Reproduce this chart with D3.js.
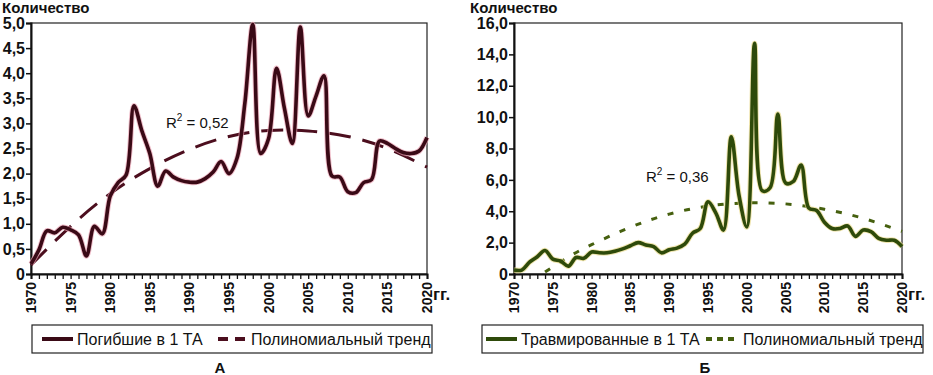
<!DOCTYPE html>
<html>
<head>
<meta charset="utf-8">
<script src="https://cdn.jsdelivr.net/npm/d3@7"></script>
<style>
  body { margin: 0; background: #fff; }
  svg text { font-family: "Liberation Sans", Arial, sans-serif; fill: #111; }
</style>
</head>
<body>
<svg width="933" height="375"></svg>
<script>
// years on the x axis
const years = [1970, 1971, 1972, 1973, 1974, 1975, 1976, 1977, 1978, 1979,
  1980, 1981, 1982, 1983, 1984, 1985, 1986, 1987, 1988, 1989,
  1990, 1991, 1992, 1993, 1994, 1995, 1996, 1997, 1998, 1999,
  2000, 2001, 2002, 2003, 2004, 2005, 2006, 2007, 2008, 2009,
  2010, 2011, 2012, 2013, 2014, 2015, 2016, 2017, 2018, 2019, 2020];
const yearLabels = [1970, 1975, 1980, 1985, 1990, 1995, 2000, 2005, 2010, 2015, 2020];

// А: killed per 1 accident
const killed = [0.2, 0.48, 0.86, 0.82, 0.93, 0.88, 0.78, 0.36, 0.95, 0.8,
  1.55, 1.82, 1.97, 3.35, 2.85, 2.4, 1.75, 2.05, 1.93, 1.86,
  1.83, 1.83, 1.9, 2.03, 2.24, 2.0, 2.3, 3.4, 4.97, 2.4,
  2.7, 4.1, 3.3, 2.6, 4.92, 3.15, 3.55, 3.95, 1.95, 1.93,
  1.64, 1.62, 1.82, 1.88, 2.65, 2.6, 2.5, 2.42, 2.4, 2.45, 2.72];
const trendYearsA = [1970, 1975, 1980, 1985, 1990, 1995, 2000, 2005, 2010, 2015, 2020];
const trendA = [0.18, 0.95, 1.6, 2.1, 2.48, 2.74, 2.86, 2.85, 2.74, 2.5, 2.13];
const ticksA = [0, 0.5, 1, 1.5, 2, 2.5, 3, 3.5, 4, 4.5, 5];

// Б: injured per 1 accident
const injured = [0.25, 0.25, 0.75, 1.1, 1.5, 0.95, 0.83, 0.5, 1.05, 1.0,
  1.4, 1.35, 1.35, 1.45, 1.6, 1.8, 2.0, 1.85, 1.75, 1.35,
  1.55, 1.65, 1.9, 2.6, 2.9, 4.6, 3.9, 2.8, 8.75, 5.0,
  3.0, 14.7, 5.3, 5.5, 10.2, 5.8, 5.9, 6.95, 4.2, 4.05,
  3.3, 2.9, 2.9, 3.06, 2.4, 2.8, 2.7, 2.27, 2.15, 2.15, 1.75];
const trendYearsB = [1974, 1977, 1980, 1985, 1990, 1995, 2000, 2005, 2010, 2015, 2020];
const trendB = [0.12, 1.08, 1.87, 2.98, 3.82, 4.33, 4.53, 4.47, 4.13, 3.55, 2.72];
const ticksB = [0, 2, 4, 6, 8, 10, 12, 14, 16];

const svg = d3.select('svg');
const fmt = d => d === 0 ? '0' : d3.format('.1f')(d).replace('.', ',');

function panel(o) {
  const x = d3.scaleLinear().domain([1970, 2020]).range([o.x0, o.x1]);
  const y = d3.scaleLinear().domain([0, o.yMax]).range([o.y1, o.y0]);
  const g = svg.append('g');

  // title
  g.append('text')
    .attr('x', o.titleX).attr('y', 13)
    .attr('font-size', 15).attr('font-weight', 'bold')
    .text('Количество');

  // plot frame
  g.append('rect')
    .attr('x', o.x0).attr('y', o.y0)
    .attr('width', o.x1 - o.x0).attr('height', o.y1 - o.y0)
    .attr('fill', 'none').attr('stroke', '#222').attr('stroke-width', 1.2);

  // y axis
  const ya = g.append('g')
    .attr('transform', `translate(${o.x0},0)`)
    .call(d3.axisLeft(y).tickValues(o.ticks).tickSize(5).tickPadding(1).tickFormat(fmt));
  ya.select('.domain').attr('stroke', '#111').attr('stroke-width', 2);
  ya.selectAll('line').attr('stroke', '#111').attr('stroke-width', 1.5);
  ya.selectAll('text').attr('font-size', 16).attr('font-weight', 'bold')
    .attr('font-family', '"Liberation Sans", Arial, sans-serif').attr('fill', '#111');

  // x axis, a tick every year
  const xa = g.append('g')
    .attr('transform', `translate(0,${o.y1})`)
    .call(d3.axisBottom(x).tickValues(years).tickSize(5).tickFormat(''));
  xa.select('.domain').attr('stroke', '#111').attr('stroke-width', 2);
  xa.selectAll('line').attr('stroke', '#111').attr('stroke-width', 1.3);

  g.selectAll('.xl').data(yearLabels).enter().append('text')
    .attr('class', 'xl')
    .attr('transform', d => `translate(${x(d)},${o.y1 + 8}) rotate(-90)`)
    .attr('text-anchor', 'end').attr('dy', '0.36em')
    .attr('font-size', 14).attr('font-weight', 'bold')
    .text(d => d);
  g.append('text')
    .attr('x', o.x1 + 6).attr('y', o.y1 + 26)
    .attr('font-size', 17).attr('font-weight', 'bold')
    .text('гг.');

  // trend
  const trendLine = d3.line().x((d, i) => x(o.trendYears[i])).y(d => y(d)).curve(d3.curveNatural);
  g.append('path')
    .attr('d', trendLine(o.trend))
    .attr('fill', 'none').attr('stroke', o.trendColor)
    .attr('stroke-width', 3).attr('stroke-dasharray', o.dash);

  // series
  const line = d3.line().x((d, i) => x(years[i])).y(d => y(d)).curve(d3.curveCatmullRom.alpha(0.5));
  g.append('path')
    .attr('d', line(o.values))
    .attr('fill', 'none').attr('stroke', o.halo).attr('stroke-width', 5.5)
    .attr('stroke-linejoin', 'round').attr('opacity', 0.7);
  g.append('path')
    .attr('d', line(o.values))
    .attr('fill', 'none').attr('stroke', o.color).attr('stroke-width', 3.6)
    .attr('stroke-linejoin', 'round');

  // R squared
  const r2 = g.append('text')
    .attr('x', o.r2x).attr('y', o.r2y)
    .attr('font-size', 15);
  r2.append('tspan').text('R');
  r2.append('tspan').attr('font-size', 10).attr('dy', -7).text('2');
  r2.append('tspan').attr('dy', 7).text(' = ' + o.r2);

  // legend
  const lg = o.legend;
  g.append('rect')
    .attr('x', lg.x).attr('y', 325).attr('width', lg.w).attr('height', 28)
    .attr('fill', 'none').attr('stroke', '#222').attr('stroke-width', 1.2);
  g.append('line')
    .attr('x1', lg.s1).attr('x2', lg.s1 + 31).attr('y1', 339).attr('y2', 339)
    .attr('stroke', o.color).attr('stroke-width', 4);
  g.append('text').attr('x', lg.t1).attr('y', 345).attr('font-size', 16).text(o.name);
  g.append('line')
    .attr('x1', lg.s2).attr('x2', lg.s2 + 30).attr('y1', 339).attr('y2', 339)
    .attr('stroke', o.trendColor).attr('stroke-width', 4).attr('stroke-dasharray', lg.dash);
  g.append('text').attr('x', lg.t2).attr('y', 345).attr('font-size', 16).text('Полиномиальный тренд');

  g.append('text')
    .attr('x', o.letterX).attr('y', 373)
    .attr('text-anchor', 'middle').attr('font-size', 15).attr('font-weight', 'bold')
    .text(o.letter);
}

panel({
  x0: 31, x1: 427, y0: 23, y1: 274, yMax: 5, ticks: ticksA, titleX: 2,
  values: killed, trendYears: trendYearsA, trend: trendA,
  color: '#3a0a16', halo: '#e9a3b4', trendColor: '#4c0e1e', dash: '22,12',
  r2x: 166, r2y: 128, r2: '0,52',
  name: 'Погибшие в 1 ТА',
  legend: { x: 32, w: 400, s1: 42, t1: 77, s2: 218, t2: 251, dash: '10,7' },
  letter: 'А', letterX: 220
});

panel({
  x0: 514, x1: 902, y0: 23, y1: 274, yMax: 16, ticks: ticksB, titleX: 470,
  values: injured, trendYears: trendYearsB, trend: trendB,
  color: '#2e4a0a', halo: '#e8d98a', trendColor: '#46600f', dash: '6,11',
  r2x: 646, r2y: 182, r2: '0,36',
  name: 'Травмированные в 1 ТА',
  legend: { x: 482, w: 441, s1: 486, t1: 521, s2: 706, t2: 743, dash: '6,5' },
  letter: 'Б', letterX: 705
});
</script>
</body>
</html>
